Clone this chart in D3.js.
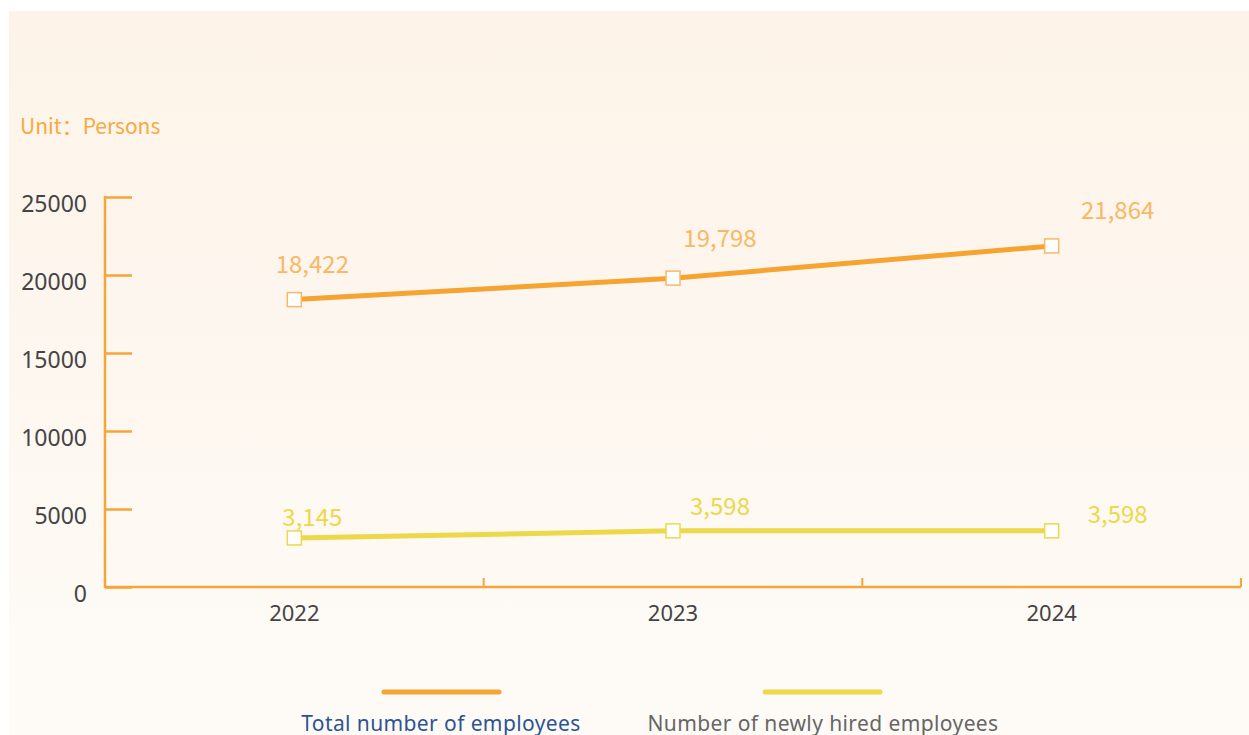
<!doctype html>
<html>
<head>
<style>
  body { margin: 0; background: #fff; }
  svg { display: block; }
</style>
<script src="https://d3js.org/d3.v7.min.js"></script>
</head>
<body>
<svg width="1249" height="735"></svg>
<script>
  var years = ["2022", "2023", "2024"];
  var totalEmployees = [18422, 19798, 21864];
  var newHires = [3145, 3598, 3598];
  var yTicks = [0, 5000, 10000, 15000, 20000, 25000];
  var seriesNames = ["Total number of employees", "Number of newly hired employees"];

  var svg = d3.select("svg");

  // background panel with soft gradient
  var defs = svg.append("defs");
  var grad = defs.append("linearGradient").attr("id", "bg")
      .attr("x1", 0).attr("y1", 0).attr("x2", 0).attr("y2", 1);
  grad.append("stop").attr("offset", "0%").attr("stop-color", "#fdf3e8");
  grad.append("stop").attr("offset", "100%").attr("stop-color", "#fefbf7");
  svg.append("rect").attr("x", 9).attr("y", 11).attr("width", 1240).attr("height", 724)
      .attr("fill", "url(#bg)");

  var plotLeft = 105, plotRight = 1241, plotTop = 197, plotBottom = 587;
  var x = d3.scaleBand().domain(years).range([plotLeft, plotRight]);
  var y = d3.scaleLinear().domain([0, 25000]).range([plotBottom, plotTop]);
  var axisColor = "#f5a53a";

  svg.append("text")
      .attr("x", 20).attr("y", 134)
      .attr("fill", "#f5aa45")
      .attr("font-family", "Noto Sans CJK SC, sans-serif")
      .attr("font-size", 21)
      .text("Unit：Persons");

  // y axis
  var yAxis = svg.append("g")
      .attr("transform", "translate(" + plotLeft + ",0)")
      .call(d3.axisRight(y).tickValues(yTicks).tickSize(27).tickFormat(""));
  yAxis.select(".domain").remove();
  yAxis.selectAll("line").attr("stroke", axisColor).attr("stroke-width", 2.5);
  svg.append("line")
      .attr("x1", plotLeft).attr("x2", plotLeft).attr("y1", plotTop - 1).attr("y2", plotBottom + 1)
      .attr("stroke", axisColor).attr("stroke-width", 2.5);
  svg.append("g").selectAll("text")
      .data(yTicks).enter().append("text")
      .attr("x", 87).attr("y", function(d) { return y(d) + 15; })
      .attr("text-anchor", "end")
      .attr("fill", "#444")
      .attr("font-family", "Noto Sans, sans-serif")
      .attr("font-size", 23)
      .text(function(d) { return d; });

  // x axis
  svg.append("line")
      .attr("x1", plotLeft).attr("x2", plotRight).attr("y1", plotBottom).attr("y2", plotBottom)
      .attr("stroke", axisColor).attr("stroke-width", 2.5);
  var bounds = years.slice(1).map(function(d) { return x(d); }).concat([plotRight]);
  svg.append("g").selectAll("line")
      .data(bounds).enter().append("line")
      .attr("x1", function(d) { return d; }).attr("x2", function(d) { return d; })
      .attr("y1", plotBottom).attr("y2", plotBottom - 9)
      .attr("stroke", axisColor).attr("stroke-width", 2);
  svg.append("g").selectAll("text")
      .data(years).enter().append("text")
      .attr("x", function(d) { return x(d) + x.bandwidth() / 2; })
      .attr("y", 621)
      .attr("text-anchor", "middle")
      .attr("fill", "#444")
      .attr("font-family", "Noto Sans, sans-serif")
      .attr("font-size", 22)
      .text(function(d) { return d; });

  var cx = function(i) { return x(years[i]) + x.bandwidth() / 2; };
  var labelShift = [18, 47, 66];

  function drawSeries(values, lineColor, labelColor, markStroke, lift) {
    var line = d3.line()
        .x(function(d, i) { return cx(i); })
        .y(function(d) { return y(d); });
    svg.append("path").datum(values)
        .attr("d", line)
        .attr("fill", "none")
        .attr("stroke", lineColor)
        .attr("stroke-width", 5);
    svg.append("g").selectAll("rect")
        .data(values).enter().append("rect")
        .attr("x", function(d, i) { return cx(i) - 7; })
        .attr("y", function(d) { return y(d) - 7; })
        .attr("width", 14).attr("height", 14)
        .attr("fill", "#fff")
        .attr("stroke", markStroke).attr("stroke-width", 1.5);
    svg.append("g").selectAll("text")
        .data(values).enter().append("text")
        .attr("x", function(d, i) { return cx(i) + labelShift[i]; })
        .attr("y", function(d, i) { return y(d) - lift[i]; })
        .attr("text-anchor", "middle")
        .attr("fill", labelColor)
        .attr("font-family", "Noto Sans CJK SC, sans-serif")
        .attr("font-size", 24)
        .text(function(d) { return d3.format(",")(d); });
  }

  drawSeries(totalEmployees, "#f5a331", "#f8b866", "#f8b866", [27, 31, 27]);
  drawSeries(newHires, "#ecd84a", "#ecd84a", "#ecd84a", [12, 16, 8]);

  // legend
  var legend = [
    { name: seriesNames[0], color: "#f5a331", text: "#2b5591", lx: 384, tx: 441 },
    { name: seriesNames[1], color: "#ecd84a", text: "#666", lx: 765, tx: 823 }
  ];
  var lg = svg.append("g").selectAll("g").data(legend).enter().append("g");
  lg.append("line")
      .attr("x1", function(d) { return d.lx; }).attr("x2", function(d) { return d.lx + 115; })
      .attr("y1", 692).attr("y2", 692)
      .attr("stroke", function(d) { return d.color; })
      .attr("stroke-width", 5).attr("stroke-linecap", "round");
  lg.append("text")
      .attr("x", function(d) { return d.tx; }).attr("y", 731)
      .attr("text-anchor", "middle")
      .attr("fill", function(d) { return d.text; })
      .attr("font-family", "Noto Sans, sans-serif")
      .attr("font-size", 21)
      .attr("letter-spacing", 0.4)
      .text(function(d) { return d.name; });
</script>
</body>
</html>
